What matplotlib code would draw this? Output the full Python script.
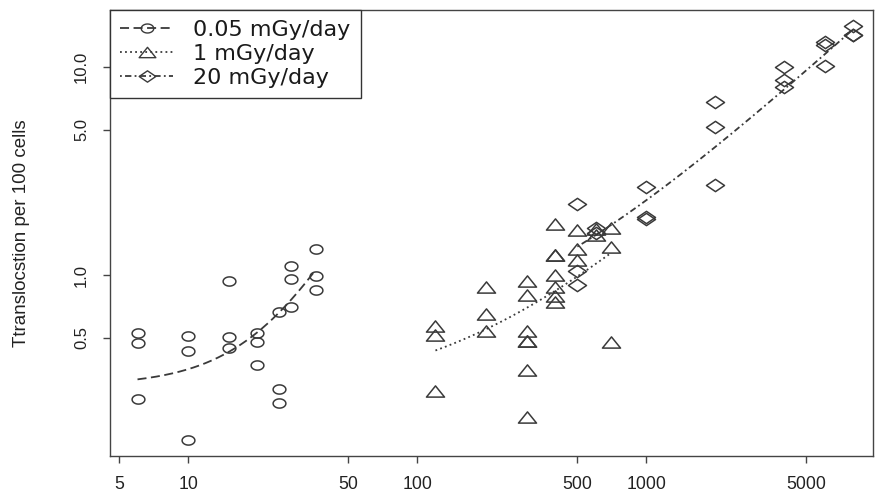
import numpy as np
import matplotlib
matplotlib.use("Agg")
import matplotlib.pyplot as plt
from matplotlib.ticker import FixedLocator, NullLocator
from matplotlib.path import Path
from matplotlib.lines import Line2D

plt.rcParams['font.family'] = ['Liberation Sans', 'DejaVu Sans']

# ---- data: 0.05 mGy/day (circles) ----
circ_x = [6, 6, 6, 10, 10, 10, 15, 15, 15, 20, 20, 20, 25, 25, 25, 28, 28, 28, 36, 36, 36]
circ_y = [0.525, 0.469, 0.253, 0.509, 0.433, 0.162, 0.936, 0.505, 0.444,
          0.525, 0.475, 0.368, 0.664, 0.284, 0.242, 1.105, 0.954, 0.704,
          1.33, 0.989, 0.844]

# ---- data: 1 mGy/day (triangles) ----
tri_x = [120, 120, 120, 200, 200, 200, 300, 300, 300, 300, 300, 300, 300,
         400, 400, 400, 400, 400, 400, 400, 500, 500, 500, 600, 600, 700, 700, 700]
tri_y = [0.570, 0.515, 0.278, 0.873, 0.647, 0.540, 0.936, 0.801, 0.540, 0.483, 0.483, 0.349, 0.208,
         1.76, 1.25, 1.25, 1.0, 0.879, 0.793, 0.744, 1.65, 1.33, 1.18, 1.66, 1.56, 1.69, 1.37, 0.475]

# ---- data: 20 mGy/day (diamonds) ----
dia_x = [500, 500, 500, 600, 600, 1000, 1000, 1000, 2000, 2000, 2000,
         4000, 4000, 4000, 6000, 6000, 6000, 8000, 8000, 8000]
dia_y = [2.19, 1.05, 0.892, 1.68, 1.59, 2.66, 1.91, 1.87, 6.81, 5.16, 2.71,
         10.0, 8.66, 7.99, 13.2, 12.8, 10.1, 15.7, 14.3, 14.3]

# ---- fitted curves: y = a + b*x + c*x^2 (coefficients) ----
circ_fit = (0.294, 0.0, 0.000591)
circ_range = (6, 36)
tri_fit = (0.26, 0.00145, 0.0)
tri_range = (120, 700)
dia_fit = (0.45, 0.00184, 0.0)
dia_range = (500, 8000)

labels = ["0.05 mGy/day", "1 mGy/day", "20 mGy/day"]
x_ticks = [5, 10, 50, 100, 500, 1000, 5000]
x_ticklabels = ["5", "10", "50", "100", "500", "1000", "5000"]
y_ticks = [0.5, 1.0, 5.0, 10.0]
y_ticklabels = ["0.5", "1.0", "5.0", "10.0"]
y_label = "Ttranslocstion per 100 cells"

col = "#3a3a3a"

# slightly flattened marker shapes (the source image is stretched horizontally)
t = np.linspace(0, 2 * np.pi, 41)
ell = Path(np.column_stack([np.cos(t), 0.72 * np.sin(t)]), closed=True)
tri = Path([(-1, -0.62), (1, -0.62), (0, 0.62), (-1, -0.62)], closed=True)
dia = Path([(-1, 0), (0, 0.68), (1, 0), (0, -0.68), (-1, 0)], closed=True)

fig = plt.figure(figsize=(8.76, 4.94), dpi=100)
ax = fig.add_axes([110/876, 1-456/494, (873-110)/876, (456-10)/494])
ax.set_xscale('log')
ax.set_yscale('log')
ax.set_xlim(4.55, 9770)
ax.set_ylim(0.135, 18.8)


def curve(fit, rng):
    xs = np.logspace(np.log10(rng[0]), np.log10(rng[1]), 200)
    a, b, c = fit
    return xs, a + b * xs + c * xs ** 2

mk = dict(markerfacecolor='none', markeredgecolor=col, markeredgewidth=1.1, linestyle='none')
ax.plot(circ_x, circ_y, marker=ell, markersize=9.2, **mk)
ax.plot(tri_x, tri_y, marker=tri, markersize=13, **mk)
ax.plot(dia_x, dia_y, marker=dia, markersize=13, **mk)

cx, cy = curve(circ_fit, circ_range)
ax.plot(cx, cy, color=col, lw=1.3, dashes=(5, 2.5))
tx, ty = curve(tri_fit, tri_range)
ax.plot(tx, ty, color=col, lw=1.3, dashes=(1, 1.8))
dx, dy = curve(dia_fit, dia_range)
ax.plot(dx, dy, color=col, lw=1.3, dashes=(1, 1.8, 3.5, 1.8))

# legend handles
h1 = Line2D([], [], color=col, lw=1.3, dashes=(5, 2.5), marker=ell, markersize=9,
            markerfacecolor='none', markeredgecolor=col)
h2 = Line2D([], [], color=col, lw=1.3, dashes=(1, 1.8), marker=tri, markersize=12,
            markerfacecolor='none', markeredgecolor=col)
h3 = Line2D([], [], color=col, lw=1.3, dashes=(1, 1.8, 3.5, 1.8), marker=dia, markersize=12,
            markerfacecolor='none', markeredgecolor=col)
leg = ax.legend([h1, h2, h3], labels, loc='upper left', bbox_to_anchor=(0, 1),
                borderaxespad=0, fancybox=False, framealpha=1, edgecolor='#333333',
                prop={'family': 'DejaVu Sans', 'size': 16}, handlelength=2.4,
                handletextpad=0.9, labelspacing=0.17, borderpad=0.45)
for txt in leg.get_texts():
    txt.set_color('#1a1a1a')
leg.get_frame().set_linewidth(1.0)

ax.xaxis.set_major_locator(FixedLocator(x_ticks))
ax.xaxis.set_minor_locator(NullLocator())
ax.set_xticklabels(x_ticklabels)
ax.yaxis.set_major_locator(FixedLocator(y_ticks))
ax.yaxis.set_minor_locator(NullLocator())
ax.set_yticklabels(y_ticklabels, rotation=90, va='center')
ax.tick_params(axis='both', length=5, width=1, color='#444444',
               labelcolor='#222222')
ax.tick_params(axis='x', labelsize=12.7, pad=9.5)
ax.tick_params(axis='y', labelsize=12, pad=10)
for s in ax.spines.values():
    s.set_color('#444444')
    s.set_linewidth(1.0)

ax.set_ylabel(y_label, fontsize=13.5, color='#222222')
ax.yaxis.set_label_coords((30 - 110) / 763, 0.5)

fig.savefig("out.png", dpi=100)
